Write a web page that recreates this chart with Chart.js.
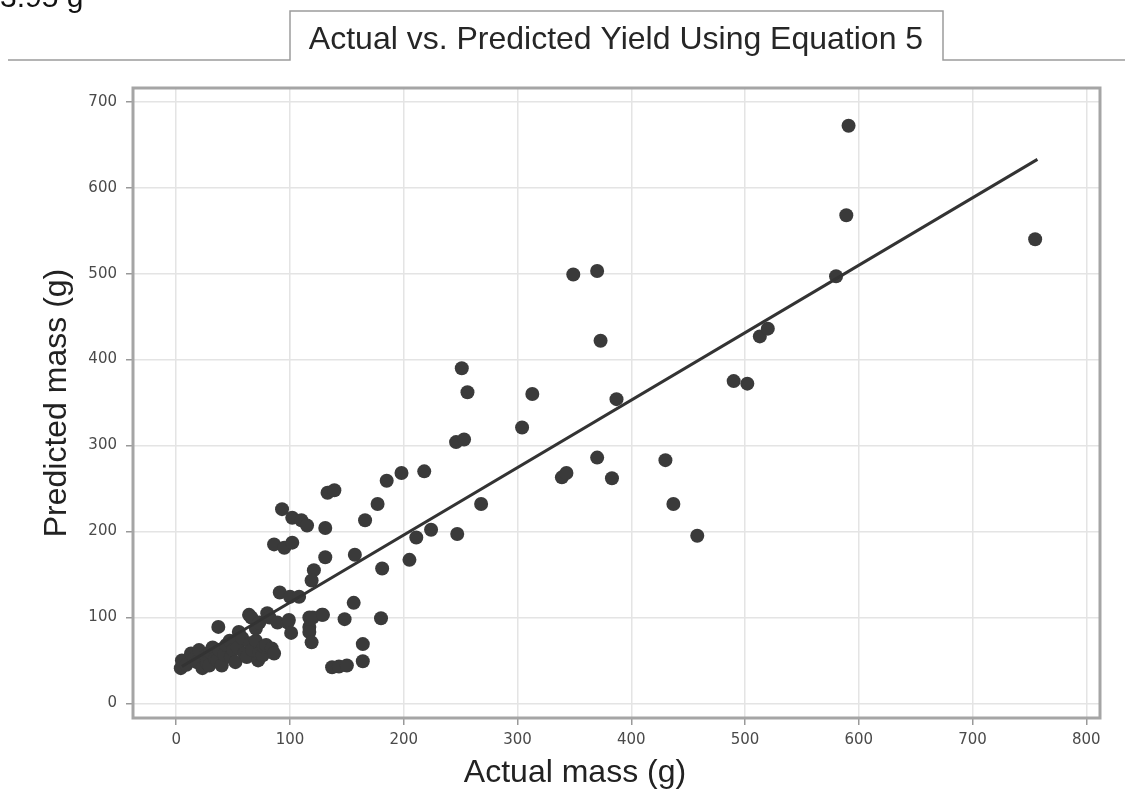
<!DOCTYPE html>
<html>
<head>
<meta charset="utf-8">
<script src="https://cdn.jsdelivr.net/npm/chart.js@4"></script>
<style>
  html, body { margin: 0; padding: 0; background: #fff; }
  #wrap { width: 1125px; height: 794px; }
</style>
</head>
<body>
<div id="wrap"><canvas id="yieldChart" width="1125" height="794"></canvas></div>
<script>
// actual vs predicted mass (g), one entry per sample
const actualMass = [
  4, 5, 9, 13, 16, 18, 20, 23, 26, 27, 29, 30, 32, 34, 36, 38, 40, 42, 44, 47,
  48, 50, 52, 54, 55, 58, 60, 62, 65, 67, 70, 72, 73, 76, 77, 79, 84, 86, 37, 64,
  66, 70, 73, 80, 82, 89, 91, 98, 99, 101, 100, 108, 117, 128, 117, 117, 119, 120, 129,
  86, 95, 102, 93, 102, 110, 115, 131, 133, 139, 121, 119, 131, 157, 166, 177, 185,
  198, 218, 211, 224, 205, 181, 156, 148, 180, 164, 164, 137, 143, 150, 247, 268,
  251, 256, 246, 253, 313, 304, 339, 343, 349, 370, 373, 387, 370, 383, 430, 437,
  458, 490, 502, 513, 520, 580, 589, 591, 755
];
const predictedMass = [
  41, 50, 45, 58, 52, 48, 62, 41, 55, 47, 44, 60, 65, 52, 50, 62, 44, 57, 68, 73,
  54, 62, 48, 65, 83, 76, 58, 54, 70, 62, 73, 50, 58, 56, 66, 68, 64, 58, 89, 103,
  100, 87, 94, 105, 100, 94, 129, 94, 97, 82, 124, 124, 100, 103, 89, 83, 71, 100, 103,
  185, 181, 187, 226, 216, 213, 207, 204, 245, 248, 155, 143, 170, 173, 213, 232, 259,
  268, 270, 193, 202, 167, 157, 117, 98, 99, 69, 49, 42, 43, 44, 197, 232,
  390, 362, 304, 307, 360, 321, 263, 268, 499, 503, 422, 354, 286, 262, 283, 232,
  195, 375, 372, 427, 436, 497, 568, 672, 540
];

// fitted line end points
const fitX = [5, 757];
const fitY = [43, 633];

const xTicks = [0, 100, 200, 300, 400, 500, 600, 700, 800];
const yTicks = [0, 100, 200, 300, 400, 500, 600, 700];

const chartTitle = 'Actual vs. Predicted Yield Using Equation 5';
const xTitle = 'Actual mass (g)';
const yTitle = 'Predicted mass (g)';
const cornerNote = '3.95 g';

const points = actualMass.map((x, i) => ({ x: x, y: predictedMass[i] }));
const fitLine = fitX.map((x, i) => ({ x: x, y: fitY[i] }));

const labelFont = '"Liberation Sans", Arial, sans-serif';

// grey frame round the plot area
const framePlugin = {
  id: 'frame',
  beforeDatasetsDraw(chart) {
    const { ctx, chartArea: a } = chart;
    ctx.save();
    ctx.strokeStyle = '#a5a5a5';
    ctx.lineWidth = 3;
    ctx.strokeRect(a.left, a.top, a.right - a.left, a.bottom - a.top);
    ctx.restore();
  }
};

// tab-style title box on a rule, x axis title, and the clipped note at top left
const headerPlugin = {
  id: 'header',
  afterDraw(chart) {
    const ctx = chart.ctx;
    const boxL = 290, boxR = 943, boxT = 11, ruleY = 60;
    ctx.save();
    ctx.strokeStyle = '#9c9c9c';
    ctx.lineWidth = 1.5;
    ctx.beginPath();
    ctx.moveTo(8, ruleY); ctx.lineTo(boxL, ruleY);
    ctx.lineTo(boxL, boxT); ctx.lineTo(boxR, boxT);
    ctx.lineTo(boxR, ruleY); ctx.lineTo(1125, ruleY);
    ctx.stroke();

    ctx.fillStyle = '#262626';
    ctx.font = '32px ' + labelFont;
    ctx.textAlign = 'center';
    ctx.textBaseline = 'middle';
    ctx.fillText(chartTitle, 616, 40);

    ctx.fillStyle = '#222';
    ctx.fillText(xTitle, 575, 773);

    ctx.font = '30px ' + labelFont;
    ctx.textAlign = 'left';
    ctx.textBaseline = 'alphabetic';
    ctx.fillStyle = '#111';
    ctx.fillText(cornerNote, 0, 7);
    ctx.restore();
  }
};

const tickFont = { family: '"DejaVu Sans", sans-serif', size: 15 };

new Chart(document.getElementById('yieldChart'), {
  type: 'scatter',
  data: {
    datasets: [
      {
        type: 'line',
        data: fitLine,
        borderColor: '#333',
        borderWidth: 3,
        pointRadius: 0,
        fill: false
      },
      {
        data: points,
        backgroundColor: '#3a3a3a',
        borderWidth: 0,
        pointRadius: 7
      }
    ]
  },
  options: {
    responsive: false,
    animation: false,
    devicePixelRatio: 1,
    layout: { padding: { top: 88, right: 25, left: 0, bottom: 0 } },
    plugins: {
      legend: { display: false },
      tooltip: { enabled: false }
    },
    scales: {
      x: {
        type: 'linear',
        min: -38,
        max: 812,
        afterBuildTicks: (scale) => { scale.ticks = xTicks.map(v => ({ value: v })); },
        afterFit: (scale) => { scale.height = 76; },
        grid: { color: '#e4e4e4', lineWidth: 1.5, tickLength: 7, tickColor: '#999' },
        border: { display: false },
        ticks: { font: tickFont, color: '#4a4a4a', padding: 6, maxRotation: 0 }
      },
      y: {
        type: 'linear',
        min: -17,
        max: 716,
        afterBuildTicks: (scale) => { scale.ticks = yTicks.map(v => ({ value: v })); },
        afterFit: (scale) => { scale.width = 133; },
        grid: { color: '#e4e4e4', lineWidth: 1.5, tickLength: 7, tickColor: '#999' },
        border: { display: false },
        ticks: { font: tickFont, color: '#4a4a4a', padding: 9 },
        title: {
          display: true,
          text: yTitle,
          font: { family: labelFont, size: 32 },
          color: '#222',
          padding: { top: 38, bottom: 0 }
        }
      }
    }
  },
  plugins: [framePlugin, headerPlugin]
});
</script>
</body>
</html>
